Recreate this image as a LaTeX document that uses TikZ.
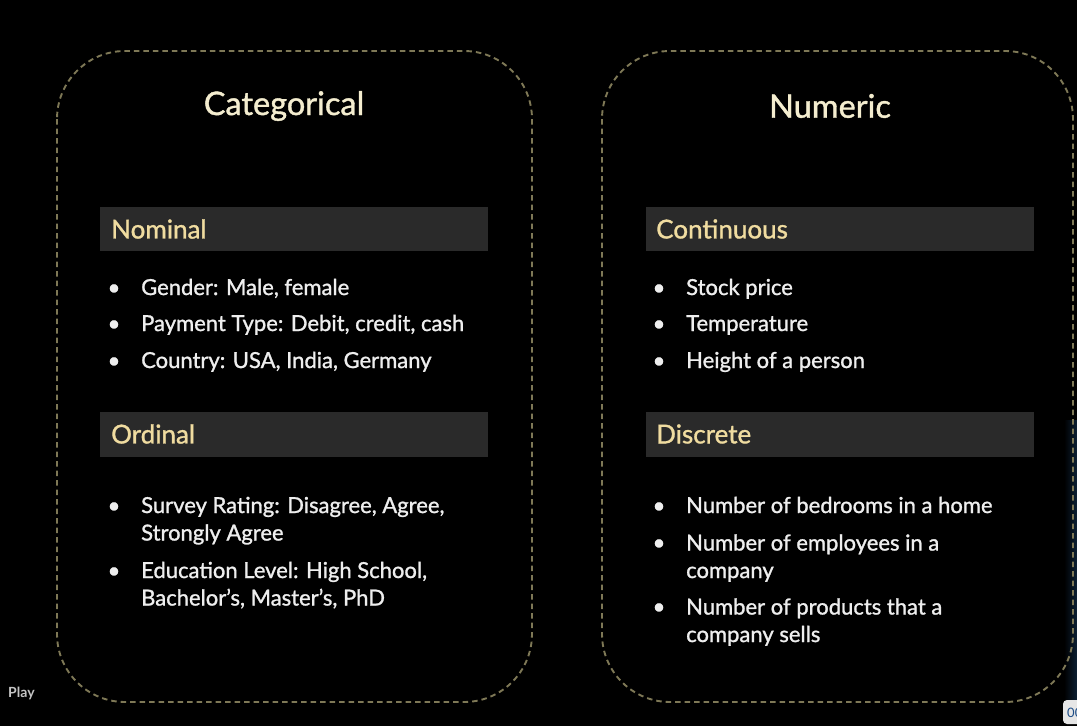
\documentclass[tikz,border=0pt]{standalone}
\usepackage{fontspec}
\setmainfont{Lato}
\newfontfamily\panelfont{Lato}[UprightFeatures={FakeBold=1.2}]
\definecolor{bg}{HTML}{000000}
\definecolor{dashcol}{HTML}{7E7856}
\definecolor{barcol}{HTML}{2A2A2A}
\definecolor{titlecol}{HTML}{F4EDCF}
\definecolor{headcol}{HTML}{F0DCA0}
\definecolor{itemcol}{HTML}{EEEEEE}
\definecolor{playcol}{HTML}{C4C4C4}
\definecolor{tagcol}{HTML}{E6E6E6}
\definecolor{tagtext}{HTML}{1C4C86}
\definecolor{glow}{HTML}{0C2034}
\tikzset{
  panel/.style={draw=dashcol, line width=1.9pt, dash pattern=on 5.5pt off 4pt, rounded corners=68pt},
  titletext/.style={text=titlecol, font=\panelfont\fontsize{32.5}{38}\selectfont},
  headbar/.style={fill=barcol},
  headtext/.style={text=headcol, font=\panelfont\fontsize{26}{30}\selectfont, anchor=west, inner sep=0pt},
  dot/.style={text=itemcol, font=\panelfont\fontsize{22}{27}\selectfont, anchor=base, inner sep=0pt},
  item/.style={text=itemcol, font=\panelfont\fontsize{22}{27.5}\selectfont, anchor=base west, align=left, inner sep=0pt},
}
\begin{document}
\begin{tikzpicture}[x=1pt,y=-1pt]
  % canvas
  \clip (0,0) rectangle (1077,726);
  \fill[bg] (0,0) rectangle (1077,726);
  \shade[left color=bg, right color=glow] (1064,420) rectangle (1077,700);

  % the two dashed panels
  \draw[panel] (57,51) rectangle (532,702);
  \draw[panel] (602,51) rectangle (1073,702);

  % panel titles
  \node[titletext] (cat) at (284,106) {Categorical};
  \node[titletext] (num) at (830,106) {Numeric};

  % left panel: header bars
  \fill[headbar] (100,207) rectangle (488,251);
  \node[headtext] (nominal) at (111,229) {Nominal};
  \fill[headbar] (100,412) rectangle (488,457);
  \node[headtext] (ordinal) at (111,434) {Ordinal};

  % right panel: header bars
  \fill[headbar] (646,207) rectangle (1034,251);
  \node[headtext] (continuous) at (656,229) {Continuous};
  \fill[headbar] (646,412) rectangle (1034,457);
  \node[headtext] (discrete) at (656,434) {Discrete};

  % nominal items
  \node[dot] (n1d) at (114,295) {•};
  \node[item] (n1) at (141,295) {Gender: Male, female};
  \node[dot] (n2d) at (114,331) {•};
  \node[item] (n2) at (141,331) {Payment Type: Debit, credit, cash};
  \node[dot] (n3d) at (114,368) {•};
  \node[item] (n3) at (141,368) {Country: USA, India, Germany};

  % ordinal items (two-line nodes sit on their last baseline)
  \node[dot] (o1d) at (114,513) {•};
  \node[item] (o1) at (141,540.5) {Survey Rating: Disagree, Agree,\\Strongly Agree};
  \node[dot] (o2d) at (114,578) {•};
  \node[item] (o2) at (141,605.5) {Education Level: High School,\\Bachelor’s, Master’s, PhD};

  % continuous items
  \node[dot] (c1d) at (659,295) {•};
  \node[item] (c1) at (686,295) {Stock price};
  \node[dot] (c2d) at (659,331) {•};
  \node[item] (c2) at (686,331) {Temperature};
  \node[dot] (c3d) at (659,368) {•};
  \node[item] (c3) at (686,368) {Height of a person};

  % discrete items
  \node[dot] (d1d) at (659,513) {•};
  \node[item] (d1) at (686,513) {Number of bedrooms in a home};
  \node[dot] (d2d) at (659,550) {•};
  \node[item] (d2) at (686,578) {Number of employees in a\\company};
  \node[dot] (d3d) at (659,614) {•};
  \node[item] (d3) at (686,642) {Number of products that a\\company sells};

  % player overlay
  \node[text=playcol, font=\fontsize{14}{16}\selectfont\bfseries, anchor=base west, inner sep=0pt] (play) at (8,697) {Play};
  \fill[tagcol, rounded corners=4pt] (1063,700) rectangle (1095,724);
  \node[text=tagtext, font=\fontsize{13}{15}\selectfont, anchor=base west, inner sep=0pt] (tag) at (1067,717) {00};
\end{tikzpicture}
\end{document}
